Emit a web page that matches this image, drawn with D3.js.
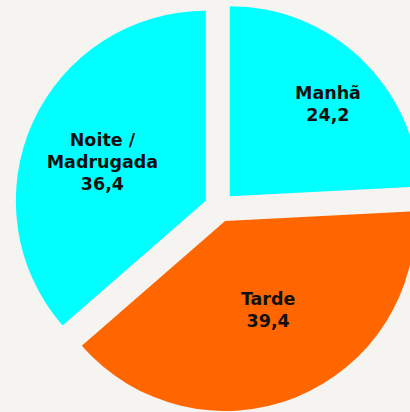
<!DOCTYPE html>
<html>
<head>
<meta charset="utf-8">
<script src="https://cdn.jsdelivr.net/npm/d3@7"></script>
<style>
  html, body { margin: 0; padding: 0; background: #f5f4f0; }
  svg { display: block; }
</style>
</head>
<body>
<script>
const categories = ["Manhã", "Tarde", "Noite / Madrugada"];
const values = [24.2, 39.4, 36.4];
const labelLines = [["Manhã"], ["Tarde"], ["Noite /", "Madrugada"]];
const colors = ["#00ffff", "#ff6600", "#00ffff"];

const WIDTH = 410;
const HEIGHT = 412;
const cx = 219.5, cy = 207;
const radius = 190;
const explode = 15;

// where the label sits inside each slice: fraction of radius, angle nudge (deg)
const labelR = [0.79, 0.60, 0.66];
const labelShift = [2.7, -3.3, -3.5];

const svg = d3.select("body").append("svg")
  .attr("width", WIDTH)
  .attr("height", HEIGHT);

svg.append("rect").attr("width", WIDTH).attr("height", HEIGHT).attr("fill", "#f5f4f0");

const pie = d3.pie().sort(null).value(d => d);
const arcs = pie(values);
const arc = d3.arc().innerRadius(0).outerRadius(radius);

const g = svg.append("g").attr("transform", `translate(${cx},${cy})`);

const slices = g.selectAll("g.slice")
  .data(arcs)
  .enter()
  .append("g")
  .attr("class", "slice")
  .attr("transform", d => {
    const mid = (d.startAngle + d.endAngle) / 2;
    return `translate(${Math.sin(mid) * explode},${-Math.cos(mid) * explode})`;
  });

slices.append("path")
  .attr("d", arc)
  .attr("fill", (d, i) => colors[i]);

const lineH = 22;
slices.each(function(d, i) {
  const mid = (d.startAngle + d.endAngle) / 2 + labelShift[i] * Math.PI / 180;
  const r = radius * labelR[i] - 0;
  const x = Math.sin(mid) * r - Math.sin((d.startAngle + d.endAngle) / 2) * explode;
  const y = -Math.cos(mid) * r + Math.cos((d.startAngle + d.endAngle) / 2) * explode;
  const lines = labelLines[i].concat([d3.format(".1f")(values[i]).replace(".", ",")]);
  const t = d3.select(this).append("text")
    .attr("text-anchor", "middle")
    .attr("font-family", "DejaVu Sans, sans-serif")
    .attr("font-weight", "bold")
    .attr("font-size", 17.5)
    .attr("fill", "#111");
  const top = y - (lines.length - 1) * lineH / 2;
  lines.forEach((s, k) => {
    t.append("tspan")
      .attr("x", x)
      .attr("y", top + k * lineH)
      .attr("dy", "0.36em")
      .text(s);
  });
});
</script>
</body>
</html>
